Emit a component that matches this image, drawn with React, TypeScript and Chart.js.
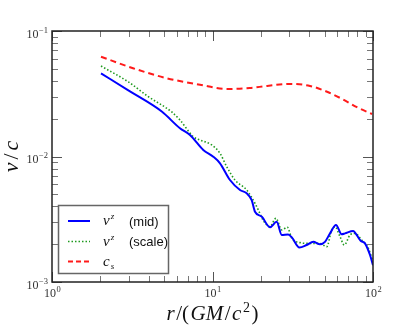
import React, { useEffect, useRef } from "react";
import { Chart, registerables } from "chart.js";

Chart.register(...registerables);

// r/(GM/c^2) and v/c values
const rMid = [2.02, 2.99, 4.83, 6.27, 7.24, 8.76, 10.12, 11.14, 12.85, 14.84, 16.33, 17.55, 18.4, 20.3, 22.8, 25.1, 27.0, 29.6, 31.2, 34.8, 38.6, 42.5, 46.7, 50.2, 54.0, 58.8, 63.8, 66.9, 75.4, 79.1, 83.8, 89.1, 95.8, 100];
const vMid = [0.046, 0.0336, 0.0228, 0.01679, 0.01483, 0.01127, 0.00996, 0.00883, 0.0065, 0.00541, 0.00509, 0.0045, 0.00363, 0.00331, 0.00273, 0.00302, 0.00237, 0.00239, 0.00227, 0.00188, 0.00197, 0.00209, 0.002, 0.00209, 0.00244, 0.00284, 0.0024, 0.00244, 0.00255, 0.00237, 0.00213, 0.00203, 0.00164, 0.00136];

const rScale = [2.02, 2.99, 3.98, 5.57, 6.27, 7.59, 8.36, 9.89, 11.14, 12.26, 13.8, 16.33, 18.4, 19.3, 20.7, 22.8, 24.86, 27.0, 29.24, 31.2, 35.1, 39.5, 46.7, 51.5, 55.3, 58.0, 62.3, 66.2, 71.9, 77.2, 85.1, 93.5, 100];
const vScale = [0.0526, 0.0393, 0.03, 0.02265, 0.01954, 0.01439, 0.01353, 0.01236, 0.0106, 0.0083, 0.0065, 0.00541, 0.00424, 0.00375, 0.0031, 0.00276, 0.00322, 0.0026, 0.00273, 0.00223, 0.00206, 0.00203, 0.00203, 0.00191, 0.0026, 0.00276, 0.0023, 0.00197, 0.00237, 0.00244, 0.00216, 0.00186, 0.00145];

const rCs = [2.02, 3.2, 5.2, 8.36, 12.3, 17.1, 21.9, 30.4, 40.5, 51.7, 65, 79.4, 98.6];
const vCs = [0.0624, 0.0505, 0.042, 0.0373, 0.0345, 0.0351, 0.0365, 0.0379, 0.0365, 0.0328, 0.0285, 0.0247, 0.0218];

const xMajorTicks = [1, 10, 100];
const xMajorExp = ["0", "1", "2"];
const xMinorTicks = [2, 3, 4, 5, 6, 7, 8, 9, 20, 30, 40, 50, 60, 70, 80, 90];
const yMajorTicks = [0.001, 0.01, 0.1];
const yMajorExp = ["\u22123", "\u22122", "\u22121"];
const yMinorTicks = [0.002, 0.003, 0.004, 0.005, 0.006, 0.007, 0.008, 0.009, 0.02, 0.03, 0.04, 0.05, 0.06, 0.07, 0.08, 0.09];

const SERIF = '"Liberation Serif", "DejaVu Serif", serif';
const SANS = '"Liberation Sans", Arial, sans-serif';

const BLUE = "#0000ff";
const GREEN = "#1f9a1f";
const RED = "#ff1a1a";

function toPts(xs: number[], ys: number[]) {
  return xs.map((x, i) => ({ x, y: ys[i] }));
}

const decor = {
  id: "decor",
  afterDatasetsDraw(chart: any) {
    const ctx: CanvasRenderingContext2D = chart.ctx;
    const { left, right, top, bottom } = chart.chartArea;
    const xs = chart.scales.x;
    const ys = chart.scales.y;
    ctx.save();

    const seg = (x1: number, y1: number, x2: number, y2: number) => {
      ctx.beginPath();
      ctx.moveTo(x1, y1);
      ctx.lineTo(x2, y2);
      ctx.stroke();
    };

    // minor ticks
    ctx.strokeStyle = "#777";
    ctx.lineWidth = 1;
    xMinorTicks.forEach((v) => {
      const p = Math.round(xs.getPixelForValue(v)) + 0.5;
      seg(p, bottom, p, bottom - 6);
      seg(p, top, p, top + 6);
    });
    yMinorTicks.forEach((v) => {
      const p = Math.round(ys.getPixelForValue(v)) + 0.5;
      seg(left, p, left + 6, p);
      seg(right, p, right - 6, p);
    });
    // major ticks
    ctx.strokeStyle = "#555";
    xMajorTicks.forEach((v) => {
      const p = Math.round(xs.getPixelForValue(v)) + 0.5;
      seg(p, bottom, p, bottom - 10);
      seg(p, top, p, top + 10);
    });
    yMajorTicks.forEach((v) => {
      const p = Math.round(ys.getPixelForValue(v)) + 0.5;
      seg(left, p, left + 10, p);
      seg(right, p, right - 10, p);
    });

    // frame
    ctx.strokeStyle = "#222";
    ctx.lineWidth = 1.5;
    ctx.strokeRect(left, top, right - left, bottom - top);

    // tick labels
    ctx.fillStyle = "#333";
    ctx.textBaseline = "alphabetic";
    ctx.textAlign = "left";
    const pow = (exp: string) => {
      ctx.font = `12px ${SERIF}`;
      const w1 = ctx.measureText("10").width;
      ctx.font = `8.5px ${SERIF}`;
      const w2 = ctx.measureText(exp).width;
      return { w1, w2 };
    };
    const drawPow = (x0: number, base: number, exp: string, w1: number) => {
      ctx.font = `12px ${SERIF}`;
      ctx.fillText("10", x0, base);
      ctx.font = `8.5px ${SERIF}`;
      ctx.fillText(exp, x0 + w1 + 0.5, base - 5);
    };
    xMajorTicks.forEach((v, i) => {
      const p = xs.getPixelForValue(v);
      const { w1, w2 } = pow(xMajorExp[i]);
      drawPow(p - (w1 + w2) / 2, bottom + 15, xMajorExp[i], w1);
    });
    yMajorTicks.forEach((v, i) => {
      const p = ys.getPixelForValue(v);
      const { w1, w2 } = pow(yMajorExp[i]);
      drawPow(left - 4 - (w1 + w2 + 0.5), p + 6.5, yMajorExp[i], w1);
    });

    // axis titles
    ctx.fillStyle = "#111";
    const drawPieces = (pieces: { t: string; f: string; dy?: number }[], gap: number, cx: number, base: number) => {
      const widths = pieces.map((pc) => {
        ctx.font = pc.f;
        return ctx.measureText(pc.t).width;
      });
      const total = widths.reduce((a, b) => a + b, 0) + gap * (pieces.length - 1);
      let x = cx - total / 2;
      pieces.forEach((pc, i) => {
        ctx.font = pc.f;
        ctx.fillText(pc.t, x, base + (pc.dy || 0));
        x += widths[i] + gap;
      });
    };
    const it = `italic 21px ${SERIF}`;
    const up = `21px ${SERIF}`;
    drawPieces(
      [
        { t: "r", f: it },
        { t: "/(", f: up },
        { t: "GM", f: it },
        { t: "/", f: up },
        { t: "c", f: it },
        { t: "2", f: `14px ${SERIF}`, dy: -8 },
        { t: ")", f: up },
      ],
      1.5,
      (left + right) / 2,
      320
    );
    ctx.save();
    ctx.translate(18, (top + bottom) / 2);
    ctx.rotate(-Math.PI / 2);
    drawPieces(
      [
        { t: "v", f: `italic 22px ${SERIF}` },
        { t: "/", f: `22px ${SERIF}` },
        { t: "c", f: `italic 22px ${SERIF}` },
      ],
      3,
      0,
      0
    );
    ctx.restore();

    // legend
    const lx = 58.5, ly = 205.5, lw = 110, lh = 68;
    ctx.fillStyle = "#fff";
    ctx.fillRect(lx, ly, lw, lh);
    ctx.strokeStyle = "#666";
    ctx.lineWidth = 1.5;
    ctx.strokeRect(lx, ly, lw, lh);

    const rows = [
      { y: 221, color: BLUE, dash: [] as number[], w: 2, main: "v", sub: "z", subUp: true, rest: "(mid)" },
      { y: 241.5, color: GREEN, dash: [1.5, 2], w: 1.5, main: "v", sub: "z", subUp: true, rest: "(scale)" },
      { y: 261.5, color: RED, dash: [5, 3], w: 2, main: "c", sub: "s", subUp: false, rest: "" },
    ];
    rows.forEach((r) => {
      ctx.strokeStyle = r.color;
      ctx.lineWidth = r.w;
      ctx.setLineDash(r.dash);
      seg(68, r.y, 90, r.y);
      ctx.setLineDash([]);
      ctx.fillStyle = "#111";
      ctx.font = `italic 15px ${SERIF}`;
      ctx.fillText(r.main, 103, r.y + 4);
      const mw = ctx.measureText(r.main).width;
      ctx.font = `italic 9px ${SERIF}`;
      ctx.fillText(r.sub, 103 + mw + 1, r.subUp ? r.y - 2 : r.y + 7);
      if (r.rest) {
        ctx.font = `13px ${SANS}`;
        ctx.fillText(r.rest, 129, r.y + 4.5);
      }
    });

    ctx.restore();
  },
};

export default function App() {
  const ref = useRef<HTMLCanvasElement | null>(null);
  useEffect(() => {
    if (!ref.current) return;
    const chart = new Chart(ref.current, {
      type: "line",
      data: {
        datasets: [
          {
            label: "v^z (mid)",
            data: toPts(rMid, vMid),
            borderColor: BLUE,
            borderWidth: 2,
            pointRadius: 0,
            cubicInterpolationMode: "monotone",
            fill: false,
          },
          {
            label: "v^z (scale)",
            data: toPts(rScale, vScale),
            borderColor: GREEN,
            borderWidth: 1.6,
            borderDash: [1.5, 2],
            pointRadius: 0,
            cubicInterpolationMode: "monotone",
            fill: false,
          },
          {
            label: "c_s",
            data: toPts(rCs, vCs),
            borderColor: RED,
            borderWidth: 2,
            borderDash: [6, 4],
            pointRadius: 0,
            cubicInterpolationMode: "monotone",
            fill: false,
          },
        ],
      },
      options: {
        animation: false,
        responsive: true,
        maintainAspectRatio: false,
        layout: { padding: { left: 52, right: 42, top: 31, bottom: 43 } },
        plugins: { legend: { display: false }, tooltip: { enabled: false } },
        scales: {
          x: { type: "logarithmic", min: 1, max: 100, display: false },
          y: { type: "logarithmic", min: 0.001, max: 0.1, display: false },
        },
      },
      plugins: [decor],
    } as any);
    return () => chart.destroy();
  }, []);
  return (
    <div style={{ position: "fixed", left: 0, top: 0, width: 415, height: 325, background: "#fff" }}>
      <canvas ref={ref} />
    </div>
  );
}
